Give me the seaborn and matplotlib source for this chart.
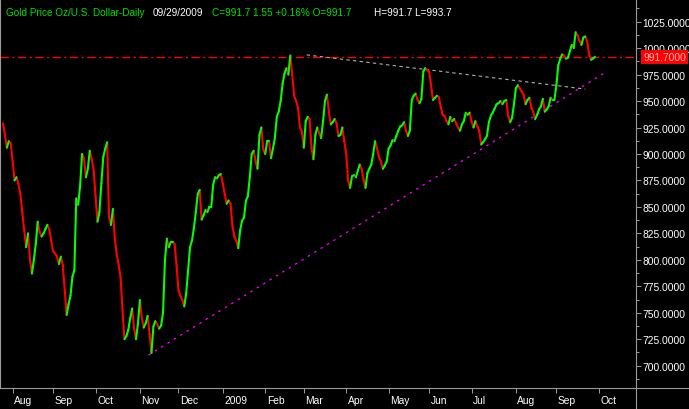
import numpy as np
import pandas as pd
import matplotlib
matplotlib.use("Agg")
import matplotlib.pyplot as plt
import matplotlib.transforms as mtransforms
from matplotlib.ticker import FixedLocator, MultipleLocator
import seaborn as sns

# ---------------- data ----------------
start_date = "2008-07-25"
prices = [
    929, 918, 906, 912, 910, 893, 875, 878, 872, 862,
    845, 828, 812, 825, 800, 787, 800, 815, 836, 826,
    822, 825, 829, 833, 829, 818, 808, 806, 803, 796,
    803, 795, 772, 748, 758, 766, 784, 790, 858, 852,
    870, 900, 896, 878, 886, 903, 895, 885, 860, 836,
    845, 872, 897, 905, 911, 840, 833, 848, 820, 805,
    795, 783, 752, 725, 728, 734, 745, 754, 735, 725,
    740, 762, 745, 736, 740, 747, 730, 712, 737, 742,
    739, 735, 738, 750, 800, 820, 812, 817, 817, 815,
    795, 771, 766, 762, 756, 768, 790, 812, 818, 830,
    845, 862, 866, 838, 842, 847, 845, 850, 850, 871,
    878, 877, 880, 881, 872, 862, 853, 856, 853, 832,
    822, 818, 811, 828, 837, 840, 856, 860, 878, 900,
    903, 893, 886, 918, 925, 904, 900, 912, 912, 896,
    905, 915, 935, 940, 950, 966, 976, 981, 975, 993,
    975, 955, 950, 944, 925, 921, 906, 931, 935, 933,
    906, 895, 918, 925, 920, 915, 931, 950, 956, 940,
    928, 930, 933, 929, 917, 918, 925, 912, 900, 875,
    868, 879, 880, 878, 884, 890, 886, 876, 868, 882,
    886, 890, 900, 912, 905, 897, 893, 886, 889, 893,
    905, 908, 913, 912, 917, 922, 926, 927, 930, 922,
    917, 922, 951, 955, 957, 951, 948, 952, 978, 981,
    979, 978, 965, 951, 953, 955, 954, 945, 937, 936,
    931, 928, 935, 931, 933, 929, 925, 922, 928, 931,
    939, 937, 939, 931, 925, 931, 926, 922, 909, 911,
    914, 917, 930, 936, 939, 943, 947, 948, 950, 947,
    950, 951, 936, 930, 934, 947, 962, 965, 962, 959,
    956, 947, 951, 953, 944, 940, 933, 937, 942, 945,
    952, 940, 942, 945, 953, 951, 951, 965, 984, 990,
    994, 993, 990, 991, 997, 1003, 1000, 1015, 1012, 1007,
    1003, 1010, 1011, 1006, 994, 989, 990.15, 991.7,
]
last_close = 991.7
support_bar = [75.4, 313.1]
support_val = [709.9, 977.9]
resist_bar = [157.5, 302.0]
resist_val = [993.6, 961.3]
month_labels = ["Aug", "Sep", "Oct", "Nov", "Dec", "2009", "Feb", "Mar",
                "Apr", "May", "Jun", "Jul", "Aug", "Sep", "Oct"]
price_ticks = [700, 725, 750, 775, 800, 825, 850, 875, 900, 925, 950, 975, 1000, 1025]

title_parts = [
    ("Gold Price Oz/U.S. Dollar-Daily", "#00e000", 6),
    ("09/29/2009", "white", 153),
    ("C=991.7 1.55 +0.16% O=991.7", "#00e000", 212),
    ("H=991.7 L=993.7", "white", 374),
]

# ---------------- frames ----------------
n = len(prices)
dates = pd.bdate_range(start_date, periods=n)
all_days = pd.bdate_range(start_date, "2009-10-30")
month_starts = []
prev = None
for k, d in enumerate(all_days):
    key = (d.year, d.month)
    if prev is not None and key != prev:
        month_starts.append(k)
    prev = key
month_starts = month_starts[:len(month_labels)]

rows = []
for k in range(n - 1):
    direction = "up" if prices[k + 1] >= prices[k] else "down"
    rows.append((k, prices[k], k, direction))
    rows.append((k + 1, prices[k + 1], k, direction))
seg = pd.DataFrame(rows, columns=["bar", "price", "seg", "dir"])

support = pd.DataFrame({"bar": support_bar, "price": support_val})
resist = pd.DataFrame({"bar": resist_bar, "price": resist_val})

# ---------------- figure ----------------
sns.set_style("dark")
plt.rcParams["font.family"] = ["Liberation Sans", "DejaVu Sans"]
W, H = 689, 410
fig = plt.figure(figsize=(W / 100, H / 100), dpi=100, facecolor="black")
ax = fig.add_axes([0, 21 / H, 636 / W, 389 / H])
ax.set_facecolor("black")
gray = "#9a9a9a"

ax.axhline(last_close, color="#ff0000", lw=1.0, dashes=(6, 2.5, 1.5, 2.5), zorder=2)

sns.lineplot(data=resist, x="bar", y="price", color="#b0b0b0", lw=0.8,
             dashes=(3, 3), ax=ax, legend=False, zorder=2)
sns.lineplot(data=support, x="bar", y="price", color="#ff00ff", lw=0.9,
             dashes=(2, 4), ax=ax, legend=False, zorder=2)

sns.lineplot(data=seg, x="bar", y="price", hue="dir", units="seg",
             estimator=None, palette={"up": "#00ff00", "down": "#ff0000"},
             lw=1.5, solid_capstyle="round", legend=False, ax=ax, zorder=3)

ax.set_xlim(-1.56, 328.3)
ax.set_ylim(678.9, 1046.4)
ax.set_xlabel("")
ax.set_ylabel("")

# axes styling
ax.spines["top"].set_visible(False)
for side in ["left", "bottom", "right"]:
    ax.spines[side].set_color(gray)
    ax.spines[side].set_linewidth(0.8)
ax.grid(False)

ax.yaxis.tick_right()
ax.yaxis.set_major_locator(FixedLocator(price_ticks))
ax.yaxis.set_minor_locator(MultipleLocator(12.5))
ax.set_yticklabels([f"{v:.4f}" for v in price_ticks])
ax.tick_params(axis="y", which="major", right=True, left=False, labelright=True,
               labelleft=False, direction="out", length=3.6, width=0.72,
               color=gray, labelcolor="white", labelsize=7.4, pad=1.2)
ax.tick_params(axis="y", which="minor", right=True, left=False, direction="out",
               length=2.0, width=0.72, color=gray)

ax.set_xticks(month_starts)
ax.set_xticklabels(month_labels)
ax.tick_params(axis="x", which="major", bottom=True, direction="out", length=3.6,
               width=0.72, color=gray, labelcolor="white", labelsize=7.4, pad=1.5)
for lbl in ax.get_xticklabels():
    lbl.set_ha("left")
    lbl.set_transform(lbl.get_transform() + mtransforms.ScaledTranslation(1.5 / 100, 0, fig.dpi_scale_trans))

# extend frame lines into label strips
ax.plot([1, W / 636], [0, 0], transform=ax.transAxes, clip_on=False, color=gray, lw=0.8)
ax.plot([1, 1], [0, -21 / 389], transform=ax.transAxes, clip_on=False, color=gray, lw=0.8)

# last price box
trans = mtransforms.blended_transform_factory(ax.transAxes, ax.transData)
ax.text(643 / 636, last_close, f"{last_close:.4f}", transform=trans, ha="left",
        va="center", color="#ffb8b8", fontsize=7.4, clip_on=False, zorder=6,
        bbox=dict(boxstyle="square,pad=0.22", facecolor="#ff0000", edgecolor="none"))

# title
for text, col, xpx in title_parts:
    fig.text(xpx / W, 1 - 12.5 / H, text, color=col, fontsize=7.2, ha="left", va="center")

fig.savefig("out.png", dpi=100, facecolor="black")
